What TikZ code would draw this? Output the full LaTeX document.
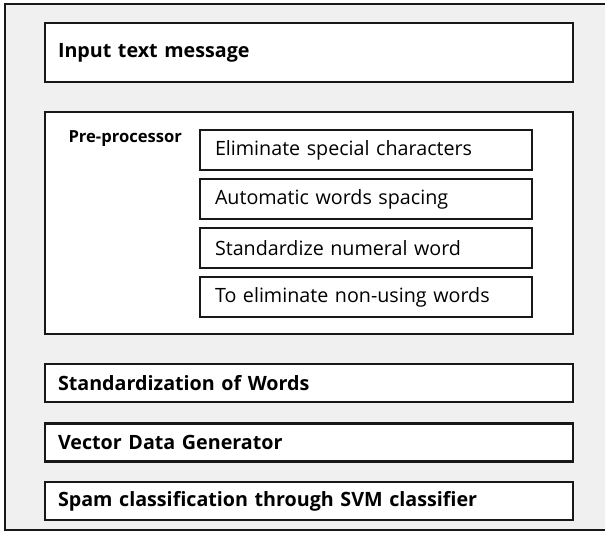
\documentclass[tikz,border=0pt]{standalone}
\usepackage{fontspec}
\setmainfont{Open Sans}
\usetikzlibrary{positioning}
\definecolor{panelcol}{RGB}{240,240,240}
\definecolor{boxcol}{RGB}{24,24,24}
\tikzset{
  stage box/.style={draw=boxcol,fill=white,line width=2.8pt,minimum height=38pt,
    inner xsep=13pt,text width=502pt,align=left,font=\fontsize{19.7}{23}\selectfont\bfseries},
  step box/.style={draw=boxcol,fill=white,line width=2.6pt,minimum height=40pt,
    inner xsep=15pt,text width=302pt,align=left,font=\fontsize{19.7}{23}\selectfont},
  group box/.style={draw=boxcol,fill=white,line width=2.8pt,minimum width=528pt,minimum height=222pt}
}
\begin{document}
\begin{tikzpicture}[x=1pt,y=-1pt]
  \useasboundingbox (0,0) rectangle (605,541);
  % grey panel behind everything
  \fill[panelcol] (5,4) rectangle (605,530);
  \draw[boxcol,line width=2.2pt] (605,4) -- (5,4) -- (5,530) -- (605,530);

  \node[stage box,minimum height=59pt] (input) at (309,52.5) {Input text message};

  \node[group box] (prep) at (309,223) {};
  \node[anchor=west,font=\fontsize{16.6}{19}\selectfont\bfseries] (preplabel) at (65,139) {Pre-processor};
  \node[step box] (elim)  at (366,150)   {Eliminate special characters};
  \node[step box] (space) at (366,199)   {Automatic words spacing};
  \node[step box] (numer) at (366,248)   {Standardize numeral word};
  \node[step box] (nonuse) at (366,297)  {To eliminate non-using words};

  \node[stage box] (stdw) at (309,383)   {Standardization of Words};
  \node[stage box] (vecg) at (309,442.5) {Vector Data Generator};
  \node[stage box] (svm)  at (309,501)   {Spam classification through SVM classifier};
\end{tikzpicture}
\end{document}
